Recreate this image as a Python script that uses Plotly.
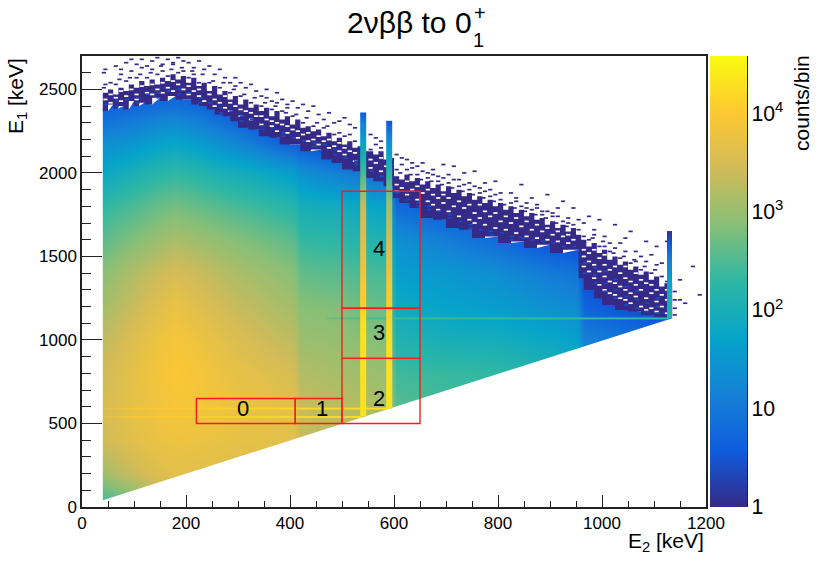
import plotly.graph_objects as go

# ---- colour scale (ROOT kBird) ----
bird = [[0.0, "rgb(53,42,135)"], [0.125, "rgb(15,92,221)"], [0.25, "rgb(20,129,214)"],
        [0.375, "rgb(6,164,202)"], [0.5, "rgb(46,183,164)"], [0.625, "rgb(135,191,119)"],
        [0.75, "rgb(209,187,89)"], [0.875, "rgb(254,200,50)"], [1.0, "rgb(249,251,14)"]]

# ---- E1 rows and E2 columns of the smooth body, log10(counts/bin) ----
e1_rows = [0, 200, 400, 600, 800, 1000, 1200, 1400, 1600, 1800, 2000, 2200, 2400, 2600, 2800]
e2_cols = [40, 100, 140, 180, 220, 260, 300, 340, 380, 408, 420, 460, 500, 530, 590, 604,
           700, 800, 900, 952, 966, 1050, 1135]
c040 = [2.3, 3.05, 3.45, 3.5, 3.45, 3.3, 3.1, 2.9, 2.6, 2.3, 1.8, 1.3, 0.6, 0, 0]
c100 = [2.6, 3.4, 3.65, 3.72, 3.7, 3.6, 3.4, 3.2, 2.85, 2.5, 2.05, 1.45, 0.75, 0, 0]
c140 = [3.1, 3.55, 3.75, 3.82, 3.85, 3.78, 3.6, 3.38, 3.0, 2.65, 2.2, 1.6, 0.85, 0.1, 0]
c180 = [3.2, 3.65, 3.8, 3.9, 3.97, 3.9, 3.75, 3.5, 3.15, 2.75, 2.3, 1.7, 0.9, 0.1, 0]
c220 = [3.2, 3.6, 3.78, 3.87, 3.9, 3.8, 3.62, 3.4, 3.05, 2.65, 2.2, 1.55, 0.8, 0.1, 0]
c260 = [3.2, 3.6, 3.75, 3.82, 3.8, 3.68, 3.48, 3.27, 2.95, 2.55, 2.05, 1.35, 0.55, 0, 0]
c300 = [3.2, 3.55, 3.7, 3.75, 3.7, 3.55, 3.35, 3.15, 2.85, 2.45, 1.95, 1.15, 0.3, 0, 0]
c340 = [3.2, 3.5, 3.68, 3.72, 3.63, 3.45, 3.25, 3.05, 2.75, 2.35, 1.85, 0.9, 0.1, 0, 0]
c380 = [3.2, 3.45, 3.65, 3.68, 3.55, 3.35, 3.15, 2.95, 2.65, 2.25, 1.7, 0.65, 0, 0, 0]
c408 = [3.2, 3.4, 3.62, 3.65, 3.5, 3.28, 3.08, 2.87, 2.58, 2.18, 1.6, 0.5, 0, 0, 0]
c420 = [3.1, 3.2, 3.35, 3.35, 3.2, 3.03, 2.88, 2.63, 2.33, 1.98, 1.42, 0.4, 0, 0, 0]
c460 = [3.1, 3.15, 3.28, 3.3, 3.15, 3.0, 2.85, 2.58, 2.28, 1.93, 1.25, 0.25, 0, 0, 0]
c500 = [3.1, 3.1, 3.2, 3.25, 3.1, 2.95, 2.8, 2.55, 2.25, 1.9, 1.1, 0.1, 0, 0, 0]
c530 = [3.0, 3.05, 3.15, 3.2, 3.05, 2.9, 2.72, 2.5, 2.18, 1.83, 1.0, 0.05, 0, 0, 0]
c590 = [3.0, 3.0, 3.05, 3.1, 3.0, 2.85, 2.65, 2.45, 2.1, 1.7, 0.7, 0, 0, 0, 0]
c604 = [2.5, 2.5, 2.5, 2.55, 2.4, 2.12, 1.88, 1.62, 1.38, 0.8, 0.3, 0, 0, 0, 0]
c700 = [2.45, 2.45, 2.45, 2.45, 2.35, 2.0, 1.7, 1.5, 1.1, 0.5, 0.1, 0, 0, 0, 0]
c800 = [2.35, 2.35, 2.35, 2.35, 2.3, 1.95, 1.6, 1.35, 0.8, 0.2, 0, 0, 0, 0, 0]
c900 = [2.15, 2.15, 2.15, 2.15, 2.1, 1.8, 1.4, 1.05, 0.4, 0.05, 0, 0, 0, 0, 0]
c952 = [2.05, 2.05, 2.05, 2.05, 2.0, 1.7, 1.3, 0.95, 0.25, 0, 0, 0, 0, 0, 0]
c966 = [1.45, 1.45, 1.45, 1.45, 1.4, 1.15, 0.7, 0.35, 0.05, 0, 0, 0, 0, 0, 0]
c1050 = [1.2, 1.2, 1.2, 1.2, 1.2, 1.0, 0.4, 0.1, 0, 0, 0, 0, 0, 0, 0]
c1135 = [1.0, 1.0, 1.0, 1.0, 1.0, 0.8, 0.25, 0.05, 0, 0, 0, 0, 0, 0, 0]
columns = [c040, c100, c140, c180, c220, c260, c300, c340, c380, c408, c420, c460, c500, c530,
           c590, c604, c700, c800, c900, c952, c966, c1050, c1135]
body_z = [list(r) for r in zip(*columns)]

# ---- edge of the filled region ----
edge_x = [40, 50, 60, 70, 80, 90, 100, 110, 120, 135, 150, 165, 180, 195, 210, 225, 240, 255,
          270, 285, 300, 320, 340, 360, 380, 400, 420, 440, 460, 480, 500, 520, 535, 560, 580,
          598, 610, 630, 650, 675, 700, 725, 750, 775, 800, 825, 850, 875, 900, 925, 955, 965,
          985, 1000, 1025, 1050, 1075, 1100, 1135]
edge_y = [2390, 2370, 2410, 2385, 2400, 2380, 2430, 2400, 2420, 2410, 2450, 2430, 2460, 2440,
          2440, 2410, 2400, 2380, 2350, 2340, 2310, 2270, 2260, 2220, 2210, 2170, 2170, 2130,
          2140, 2080, 2060, 2020, 2010, 1970, 1950, 1920, 1850, 1820, 1790, 1730, 1720, 1670,
          1660, 1610, 1620, 1580, 1590, 1550, 1570, 1520, 1540, 1370, 1300, 1250, 1210, 1180,
          1170, 1150, 1135]
diag_x = [40, 1135]
diag_y = [40, 1130]

# ---- dense low-count band above the filled region: its ragged top ----
band_x = [40, 50, 60, 70, 80, 90, 100, 110, 120, 130, 140, 150, 160, 170, 180, 190, 200, 210,
          220, 230, 240, 250, 260, 270, 280, 290, 300, 310, 320, 330, 340, 350, 360, 370, 380,
          390, 400, 410, 420, 430, 440, 450, 460, 470, 480, 490, 500, 510, 520, 530, 540, 560,
          570, 580, 590, 600, 610, 620, 630, 640, 650, 660, 670, 680, 690, 700, 710, 720, 730,
          740, 750, 760, 770, 780, 790, 800, 810, 820, 830, 840, 850, 860, 870, 880, 890, 900,
          910, 920, 930, 940, 950, 960, 970, 980, 990, 1000, 1010, 1020, 1030, 1040, 1050, 1060,
          1070, 1080, 1090, 1100, 1110, 1120, 1135]
band_y = [2480, 2500, 2470, 2510, 2490, 2530, 2510, 2550, 2520, 2560, 2530, 2570, 2550, 2590,
          2560, 2580, 2540, 2570, 2520, 2540, 2490, 2520, 2470, 2490, 2440, 2460, 2410, 2440,
          2390, 2410, 2370, 2390, 2340, 2370, 2320, 2340, 2290, 2320, 2270, 2280, 2250, 2260,
          2220, 2240, 2190, 2210, 2170, 2190, 2150, 2160, 2130, 2110, 2130, 2080, 2090, 1980,
          1960, 1990, 1950, 1970, 1930, 1950, 1910, 1930, 1890, 1920, 1880, 1900, 1860, 1880,
          1840, 1860, 1820, 1840, 1800, 1820, 1780, 1800, 1760, 1780, 1740, 1760, 1720, 1730,
          1690, 1710, 1670, 1690, 1650, 1670, 1630, 1600, 1560, 1580, 1520, 1540, 1480, 1500,
          1450, 1470, 1420, 1440, 1390, 1410, 1360, 1380, 1320, 1340, 1290]

# ---- empty bins inside the dense band: E2 column -> E1 values ----
empties = {
45:[2440], 55:[2470,2420], 65:[2450], 75:[2490,2430], 85:[2460], 95:[2500], 105:[2470,2440], 115:[2520],
125:[2480], 135:[2530,2470], 145:[2500], 155:[2540,2480], 165:[2510], 175:[2550,2490], 185:[2530], 195:[2500],
205:[2520,2470], 215:[2490], 225:[2460,2500], 235:[2430], 245:[2470], 255:[2440,2400], 265:[2420], 275:[2460,2390],
285:[2370,2420], 295:[2400], 305:[2340,2380], 315:[2370], 325:[2320,2360], 335:[2340], 345:[2290,2340], 355:[2320],
365:[2280,2310], 375:[2250,2300], 385:[2290], 395:[2240,2280], 405:[2260], 415:[2210,2250], 425:[2230], 435:[2190,2240],
445:[2200], 455:[2170,2220], 465:[2190], 475:[2150,2200], 485:[2160], 495:[2130,2180], 505:[2110,2150], 515:[2130],
525:[2070,2120], 555:[2030,2080], 565:[2060], 575:[2010,2090], 585:[2040], 605:[1890,1930], 615:[1910], 625:[1870,1950],
635:[1900], 645:[1840,1920], 655:[1880], 665:[1830,1900], 675:[1810,1870], 685:[1850,1780], 695:[1820,1870], 705:[1770,1850],
715:[1800], 725:[1740,1830], 735:[1790], 745:[1720,1810], 755:[1760,1700], 765:[1810,1730], 775:[1690,1770], 785:[1740],
795:[1670,1760], 805:[1710], 815:[1660,1740], 825:[1700], 835:[1640,1730], 845:[1680], 855:[1620,1710], 865:[1660],
875:[1610,1690], 885:[1650], 895:[1600,1670], 905:[1630], 915:[1590,1650], 925:[1620], 935:[1580,1630], 945:[1600],
965:[1440,1540,1500], 975:[1410,1520,1470], 985:[1370,1450,1540], 995:[1330,1410,1490], 1005:[1300,1380,1450,1510],
1015:[1350,1420,1280], 1025:[1270,1340,1440], 1035:[1250,1320,1400], 1045:[1300,1370,1240,1440], 1055:[1220,1350,1280],
1065:[1260,1330,1400], 1075:[1200,1300,1360], 1085:[1250,1340,1180], 1095:[1190,1280,1330], 1105:[1230,1300,1170],
1115:[1200,1270], 1125:[1160,1240,1300],
}

# ---- brighter (few-count) bins in the band ----
brighter = {
47:[2410], 67:[2430,2400], 87:[2440], 107:[2450,2420], 127:[2470], 147:[2480,2450], 167:[2490], 187:[2500,2470],
207:[2480], 227:[2450,2420], 247:[2420], 267:[2390,2360], 287:[2370], 307:[2340,2310], 327:[2320], 347:[2280,2260],
367:[2270], 387:[2240,2220], 407:[2210], 427:[2190], 447:[2180,2160], 467:[2170], 487:[2110,2140], 507:[2090],
527:[2050,2070], 557:[2010], 577:[1980,1950], 607:[1880], 627:[1840], 647:[1820,1800], 667:[1780,1800], 687:[1770],
707:[1750,1730], 727:[1710], 747:[1690,1670], 767:[1660], 787:[1650,1630], 807:[1640], 827:[1620,1600], 847:[1610],
867:[1600], 887:[1590], 907:[1580], 927:[1560], 947:[1560], 967:[1400,1460], 987:[1340,1390,1430], 1007:[1290,1340,1410],
1027:[1250,1300,1360], 1047:[1210,1260,1320], 1067:[1190,1240,1290], 1087:[1170,1220], 1107:[1160,1200,1250], 1127:[1150,1190],
}

# ---- isolated single-count bins above the band ----
singles = {
42:[2510,2600], 45:[2530,2620], 55:[2540], 65:[2530,2640], 72:[2560], 75:[2590,2620], 85:[2550,2660], 92:[2570], 95:[2610,2680],
105:[2570,2650], 112:[2590], 115:[2630,2680], 125:[2570,2640], 132:[2600], 135:[2620,2670], 145:[2590,2690], 152:[2640],
155:[2610,2650], 165:[2580,2680], 172:[2620], 175:[2650,2660], 185:[2600,2690], 192:[2630], 195:[2610,2670], 205:[2570,2660],
212:[2610], 215:[2590,2630], 225:[2540,2670], 232:[2590], 235:[2620], 245:[2540,2640], 252:[2550], 255:[2590], 265:[2510,2620],
272:[2540], 275:[2570], 285:[2480,2540], 292:[2500], 295:[2520,2570], 305:[2460,2540], 312:[2470], 315:[2510], 325:[2420,2530],
332:[2450], 335:[2490], 345:[2400,2460], 352:[2420], 355:[2450,2500], 365:[2380,2430], 372:[2400], 375:[2420,2480],
385:[2370,2440], 392:[2360], 395:[2390,2410], 405:[2340,2430], 412:[2350], 415:[2390], 425:[2300,2410], 432:[2330], 435:[2370],
445:[2280,2400], 452:[2300], 455:[2350], 465:[2270,2320], 472:[2280], 475:[2360], 485:[2230,2300], 495:[2240,2310],
505:[2220,2330], 515:[2230,2290], 525:[2190,2270], 555:[2140,2230], 565:[2170,2210], 575:[2150,2190], 605:[2020,2110],
612:[2000], 615:[2050,2090], 625:[2020,2080], 632:[1990], 635:[2030,2060], 645:[1990,2040], 652:[1960], 655:[2010,2060],
665:[1970,2000], 672:[1950], 675:[1990,2020], 685:[1950,1980], 692:[1930], 695:[1970,2050], 705:[1940,1990], 712:[1910],
715:[1960,2040], 725:[1920,1960], 732:[1890], 735:[1930,2000], 745:[1900,1940], 752:[1870], 755:[1920,2010], 765:[1880,1910],
772:[1850], 775:[1890,1940], 785:[1860,1900], 792:[1830], 795:[1870,1950], 805:[1840,1880], 812:[1810], 825:[1820,1880],
832:[1790], 835:[1830,1850], 845:[1800,1930], 852:[1770], 855:[1820,1790], 865:[1780,1850], 872:[1750], 875:[1790,1810],
885:[1750,1770], 892:[1730], 895:[1770,1870], 905:[1740,1760], 912:[1700], 915:[1740,1790], 925:[1710,1830], 932:[1680],
935:[1730,1700], 945:[1690,1790], 955:[1660,1720], 965:[1620,1700], 975:[1600,1740], 982:[1610], 985:[1630,1660], 995:[1560,1720],
1002:[1590], 1005:[1560,1620], 1015:[1530,1580], 1022:[1520], 1025:[1550,1690], 1035:[1490,1580], 1042:[1500], 1045:[1530,1610],
1055:[1460,1650], 1062:[1480], 1065:[1470,1530], 1075:[1420,1500], 1082:[1440], 1085:[1470,1590], 1095:[1400,1510], 1102:[1420],
1105:[1450,1560], 1115:[1380,1460], 1125:[1350,1590], 1140:[1150,1190,1240,1290], 1150:[1240,1360], 1160:[1220], 1175:[1440], 1188:[1270],
}

# ---- narrow gamma lines (tight end samples keep each strip inside its true extent) ----
sp540_y = [541, 543, 1000, 1100, 1300, 1500, 1800, 1940, 2140, 2300, 2356, 2360]
sp540_z = [4.3, 4.3, 4.3, 4.25, 4.0, 3.7, 3.4, 2.7, 1.9, 1.1, 0.6, 0.6]
sp590_y = [591, 593, 1000, 1300, 1500, 1800, 1940, 2140, 2250, 2306, 2310]
sp590_z = [4.3, 4.3, 4.25, 3.95, 3.65, 3.1, 2.5, 1.6, 1.0, 0.5, 0.5]
sp1130_y = [1131, 1133, 1300, 1400, 1500, 1600, 1646, 1650]
sp1130_z = [2.2, 2.2, 1.9, 1.5, 1.0, 0.4, 0.1, 0.1]
hl1130_x = [470, 472, 500, 600, 800, 1000, 1126, 1128]
hl1130_z = [2.75, 2.75, 2.6, 2.4, 2.35, 2.3, 2.2, 2.2]
hl590_x = [42, 44, 100, 300, 500, 584, 586]
hl590_z = [3.65, 3.65, 3.95, 4.12, 4.2, 4.25, 4.25]
hl540_x = [42, 44, 100, 300, 500, 534, 536]
hl540_z = [3.65, 3.65, 3.95, 4.12, 4.2, 4.25, 4.25]

# ---- analysis regions ----
box_x0 = [220, 410, 500, 500, 500]
box_x1 = [410, 500, 650, 650, 650]
box_y0 = [500, 500, 500, 890, 1190]
box_y1 = [650, 650, 890, 1190, 1890]
box_lab = ["0", "1", "2", "3", "4"]
lab_x = [310, 461, 571, 571, 571]
lab_y = [587, 587, 647, 1042, 1550]

W, H = 830, 564
L, R, T, B = 82, 706, 56, 507
BAR_L, BAR_R = 710, 747
plot_w = BAR_R - L
plot_h = B - T
def px(v): return (v - L) / plot_w
def py(v): return (B - v) / plot_h

NAVY = "rgb(53,42,135)"
fig = go.Figure()
fig.add_trace(go.Heatmap(x=e2_cols, y=e1_rows, z=body_z, coloraxis="coloraxis", zsmooth="best",
                         hoverinfo="skip"))

mask_x = [0, 40, 40] + edge_x + [1135, 1200, 1200, 0, None,
          diag_x[0], diag_x[1], 1200, 1200, 0]
mask_y = [0, diag_y[0], edge_y[0]] + edge_y + [diag_y[1], diag_y[1], 2700, 2700, None,
          diag_y[0], diag_y[1], diag_y[1], 0, 0]
fig.add_trace(go.Scatter(x=mask_x, y=mask_y, mode="none", fill="toself", fillcolor="white",
                         hoverinfo="skip", showlegend=False))

fig.add_trace(go.Scatter(x=band_x + edge_x[::-1], y=band_y + edge_y[::-1], mode="lines",
                         line=dict(width=0, shape="hv"),
                         fill="toself", fillcolor=NAVY, hoverinfo="skip", showlegend=False))

for table, colour, size, thick in ((empties, "white", 3, 1.7),
                                   (brighter, "rgb(25,75,190)", 3, 1.7),
                                   (singles, NAVY, 3, 1.7)):
    sx = [k for k, v in table.items() for _ in v]
    sy = [y for v in table.values() for y in v]
    fig.add_trace(go.Scatter(x=sx, y=sy, mode="markers", hoverinfo="skip", showlegend=False,
                             marker=dict(symbol="line-ew", size=size,
                                         line=dict(width=thick, color=colour))))

# the gamma lines sit on an overlaid y axis so they paint above the mask and the band
def vline(x0, x1, ys, zs):
    d = (x1 - x0) / 4
    fig.add_trace(go.Heatmap(x=[x0 + d, x1 - d], y=ys, z=[[v, v] for v in zs], yaxis="y3",
                             coloraxis="coloraxis", zsmooth="best", hoverinfo="skip"))

def hline(yc, xs, zs):
    fig.add_trace(go.Heatmap(x=xs, y=[yc - 2.5, yc + 2.5], z=[zs, zs], yaxis="y3",
                             coloraxis="coloraxis", zsmooth="best", hoverinfo="skip"))

hline(590, hl590_x, hl590_z)
hline(540, hl540_x, hl540_z)
hline(1130, hl1130_x, hl1130_z)
vline(535, 546, sp540_y, sp540_z)
vline(585, 596, sp590_y, sp590_z)
vline(1125, 1135, sp1130_y, sp1130_z)

# carrier trace for the logarithmic colour-bar axis
fig.add_trace(go.Scatter(x=[None], y=[None], yaxis="y2", showlegend=False, hoverinfo="skip"))

for x0, x1, y0, y1 in zip(box_x0, box_x1, box_y0, box_y1):
    fig.add_shape(type="rect", x0=x0, x1=x1, y0=y0, y1=y1, xref="x", yref="y",
                  line=dict(color="#ff1a1a", width=1.4), fillcolor="rgba(0,0,0,0)")

FONT = "Liberation Sans"
for t, x, y in zip(box_lab, lab_x, lab_y):
    fig.add_annotation(text=t, x=x, y=y, xref="x", yref="y", showarrow=False,
                       font=dict(family=FONT, size=22, color="black"))

def note(text, x, y, size, xanchor="center", yanchor="middle", angle=0):
    fig.add_annotation(text=text, x=px(x), y=py(y), xref="paper", yref="paper", showarrow=False,
                       xanchor=xanchor, yanchor=yanchor, textangle=angle,
                       font=dict(family=FONT, size=size, color="black"))

note("2νββ to 0", 345, 23, 30, xanchor="left")
note("+", 480, 13, 20)
note("1", 478, 40, 20)
note("E<sub>2</sub> [keV]", 706, 542, 21, xanchor="right")
note("E<sub>1</sub> [keV]", 17, 56, 21, yanchor="top", angle=-90)
note("counts/bin", 801, 103, 21, angle=-90)

axis_line = dict(showline=True, linecolor="#222", linewidth=1.5, mirror=True, zeroline=False,
                 showgrid=False, ticks="inside", tickcolor="#222", tickwidth=1.2,
                 tickfont=dict(family=FONT, size=17, color="black"))
fig.update_layout(
    width=W, height=H, autosize=False, showlegend=False,
    paper_bgcolor="white", plot_bgcolor="white",
    margin=dict(l=L, r=W - BAR_R, t=T, b=H - B, pad=0),
    xaxis=dict(domain=[0, (R - L) / plot_w], range=[0, 1200], tick0=0, dtick=200, ticklen=12,
               minor=dict(ticks="inside", dtick=50, ticklen=6, tickcolor="#222", showgrid=False),
               **axis_line),
    yaxis=dict(range=[0, 2700], tick0=0, dtick=500, ticklen=20,
               minor=dict(ticks="inside", dtick=100, ticklen=9, tickcolor="#222", showgrid=False),
               **axis_line),
    yaxis3=dict(overlaying="y", range=[0, 2700], visible=False),
    yaxis2=dict(overlaying="y", anchor="free", position=1, side="right", type="log",
                range=[0, 4.58], dtick=1, exponentformat="power", showline=True,
                linecolor="#222", linewidth=1, ticks="inside", ticklen=19, tickcolor="#222",
                tickwidth=1, showgrid=False, zeroline=False,
                tickfont=dict(family=FONT, size=17, color="black"),
                minor=dict(ticks="inside", dtick="D1", ticklen=9, tickcolor="#222", showgrid=False)),
    coloraxis=dict(colorscale=bird, cmin=0, cmax=4.58,
                   colorbar=dict(x=px(BAR_L), xanchor="left", xpad=0, y=0, yanchor="bottom",
                                 len=1, ypad=0, thickness=BAR_R - BAR_L, outlinewidth=0,
                                 ticks="", showticklabels=False)),
)
fig.write_html("out.html", config=dict(displayModeBar=False),
               post_script="document.body.style.margin='0';")
